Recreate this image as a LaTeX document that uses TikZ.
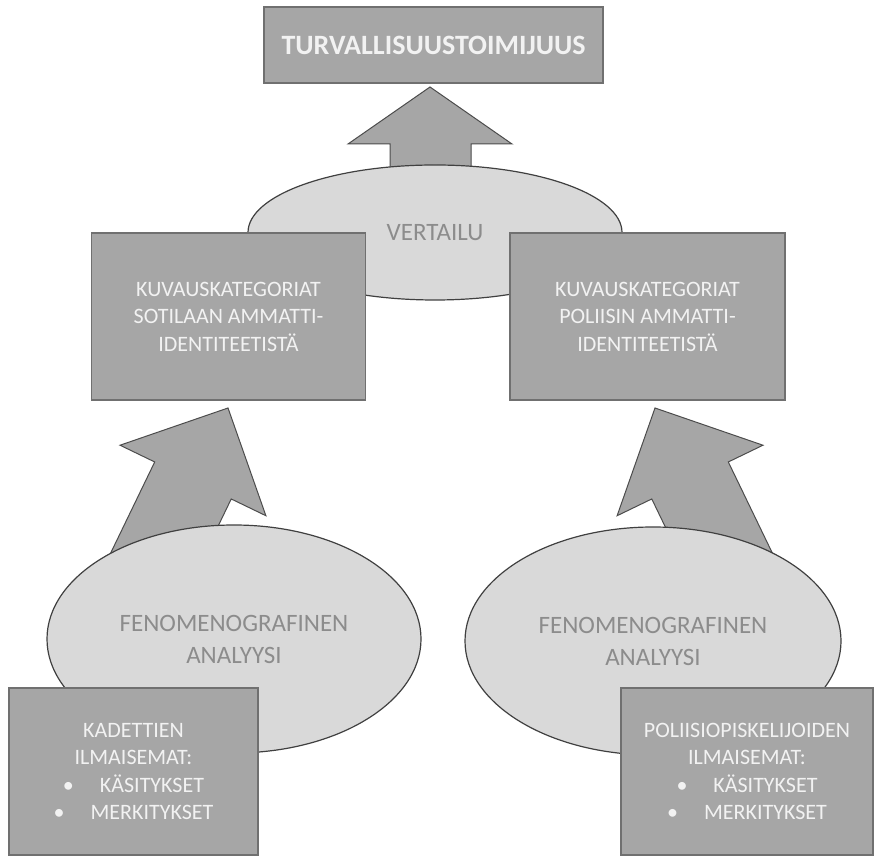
\documentclass[tikz,border=0pt]{standalone}
\usepackage{fontspec}
\setmainfont{Carlito}
\usetikzlibrary{shapes.geometric}
\definecolor{harmaa}{HTML}{A6A6A6}
\definecolor{reuna}{HTML}{707070}
\definecolor{vaalea}{HTML}{D9D9D9}
\definecolor{himmea}{HTML}{8C8C8C}
\tikzset{
  laatikko/.style={draw=reuna, fill=harmaa, line width=1.2pt, inner sep=0pt, align=center,
    text=white!95!black, font=\fontsize{22}{27.5}\selectfont},
  soikio/.style={ellipse, draw=black!75, fill=vaalea, line width=1.2pt, inner sep=0pt,
    align=center, text=himmea, font=\fontsize{25}{32}\selectfont},
  nuoli/.style={draw=black!70, fill=harmaa, line width=1pt, line join=miter},
}
\begin{document}
\begin{tikzpicture}[x=1pt,y=1pt]
  \useasboundingbox (0,0) rectangle (874,856);
  % nuolet ensin, soikiot peittavat varret
  \draw[nuoli] (430,769) -- (348,712) -- (390,712) -- (390,680) -- (471,680) -- (471,712) -- (512,712) -- cycle;
  \draw[nuoli, shift={(228,448)}, rotate=-25.8] (0,0) -- (-81,-80.5) -- (-42.5,-80.5) -- (-42.5,-200)
    -- (42.5,-200) -- (42.5,-80.5) -- (81,-80.5) -- cycle;
  \draw[nuoli, shift={(655,448)}, rotate=25.8] (0,0) -- (-81,-80.5) -- (-42.5,-80.5) -- (-42.5,-200)
    -- (42.5,-200) -- (42.5,-80.5) -- (81,-80.5) -- cycle;
  % soikiot
  \node[soikio, minimum width=374pt, minimum height=135pt] (vertailu) at (435,623.5) {VERTAILU};
  \node[soikio, minimum width=374pt, minimum height=228pt] (analyysiA) at (234,217) {FENOMENOGRAFINEN\\ANALYYSI};
  \node[soikio, minimum width=376pt, minimum height=228pt] (analyysiB) at (653,215) {FENOMENOGRAFINEN\\ANALYYSI};
  % laatikot
  \node[laatikko, minimum width=339pt, minimum height=76pt, font=\fontsize{28}{32}\selectfont\bfseries] (turva) at (433.5,811) {TURVALLISUUSTOIMIJUUS};
  \node[laatikko, minimum width=274pt, minimum height=167pt] (sotilas) at (228.5,539.5) {KUVAUSKATEGORIAT\\SOTILAAN AMMATTI-\\IDENTITEETISTÄ};
  \node[laatikko, minimum width=275pt, minimum height=167pt] (poliisi) at (647.5,539.5) {KUVAUSKATEGORIAT\\POLIISIN AMMATTI-\\IDENTITEETISTÄ};
  \node[laatikko, minimum width=249pt, minimum height=167pt] (kadetit) at (133.5,84.5) {KADETTIEN\\ILMAISEMAT:\\\textbullet\hspace{26pt}KÄSITYKSET\\\textbullet\hspace{26pt}MERKITYKSET};
  \node[laatikko, minimum width=252pt, minimum height=167pt] (opiskelijat) at (747,84.5) {POLIISIOPISKELIJOIDEN\\ILMAISEMAT:\\\textbullet\hspace{26pt}KÄSITYKSET\\\textbullet\hspace{26pt}MERKITYKSET};
\end{tikzpicture}
\end{document}
